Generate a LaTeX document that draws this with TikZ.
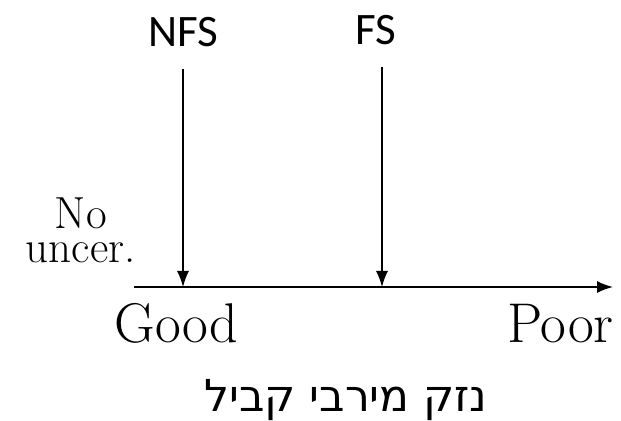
\documentclass[tikz,border=0pt]{standalone}
\usepackage{fontspec}
\newfontfamily\labelfont{Carlito}
\newfontfamily\hebfont[Script=Hebrew]{DejaVu Sans}
\TeXXeTstate=1
\usetikzlibrary{arrows.meta}

\begin{document}
\begin{tikzpicture}[
    x=0.5pt, y=-0.5pt,
    >={Latex[length=8pt,width=6pt]},
    tag/.style={inner sep=0pt, font=\labelfont\fontsize{22.5}{27}\selectfont},
    scalelabel/.style={inner sep=0pt, font=\fontsize{28}{32}\selectfont},
    axisline/.style={->, line width=0.8pt},
    marker/.style={->, line width=0.7pt, shorten <=10.5pt}
]
\useasboundingbox (0,0) rectangle (621,421);

% Horizontal scale from good to poor.
\coordinate (o) at (134,287);
\coordinate (e) at (613,287);
\draw[axisline] (o) -- (e);

\node[inner sep=0pt, align=center, font=\fontsize{22.5}{17}\selectfont, anchor=base east] (nounc) at (136,263) {No\\uncer.};
\node[scalelabel, anchor=base west] (good) at (114,343) {Good};
\node[scalelabel, anchor=base east] (poor) at (614,343) {Poor};

% Operating points.
\node[tag, anchor=base] (nfs) at (183,47) {NFS};
\node[tag, anchor=base] (fs) at (376,45) {FS};
\draw[marker] (nfs.south) -- (nfs.south |- o);
\draw[marker] ([xshift=3pt]fs.south) -- ([xshift=3pt]fs.south |- o);

\node[inner sep=0pt, anchor=base, font=\hebfont\fontsize{22}{27}\selectfont] (title) at (346,412) {\beginR נזק מירבי קביל\endR};

\end{tikzpicture}
\end{document}
